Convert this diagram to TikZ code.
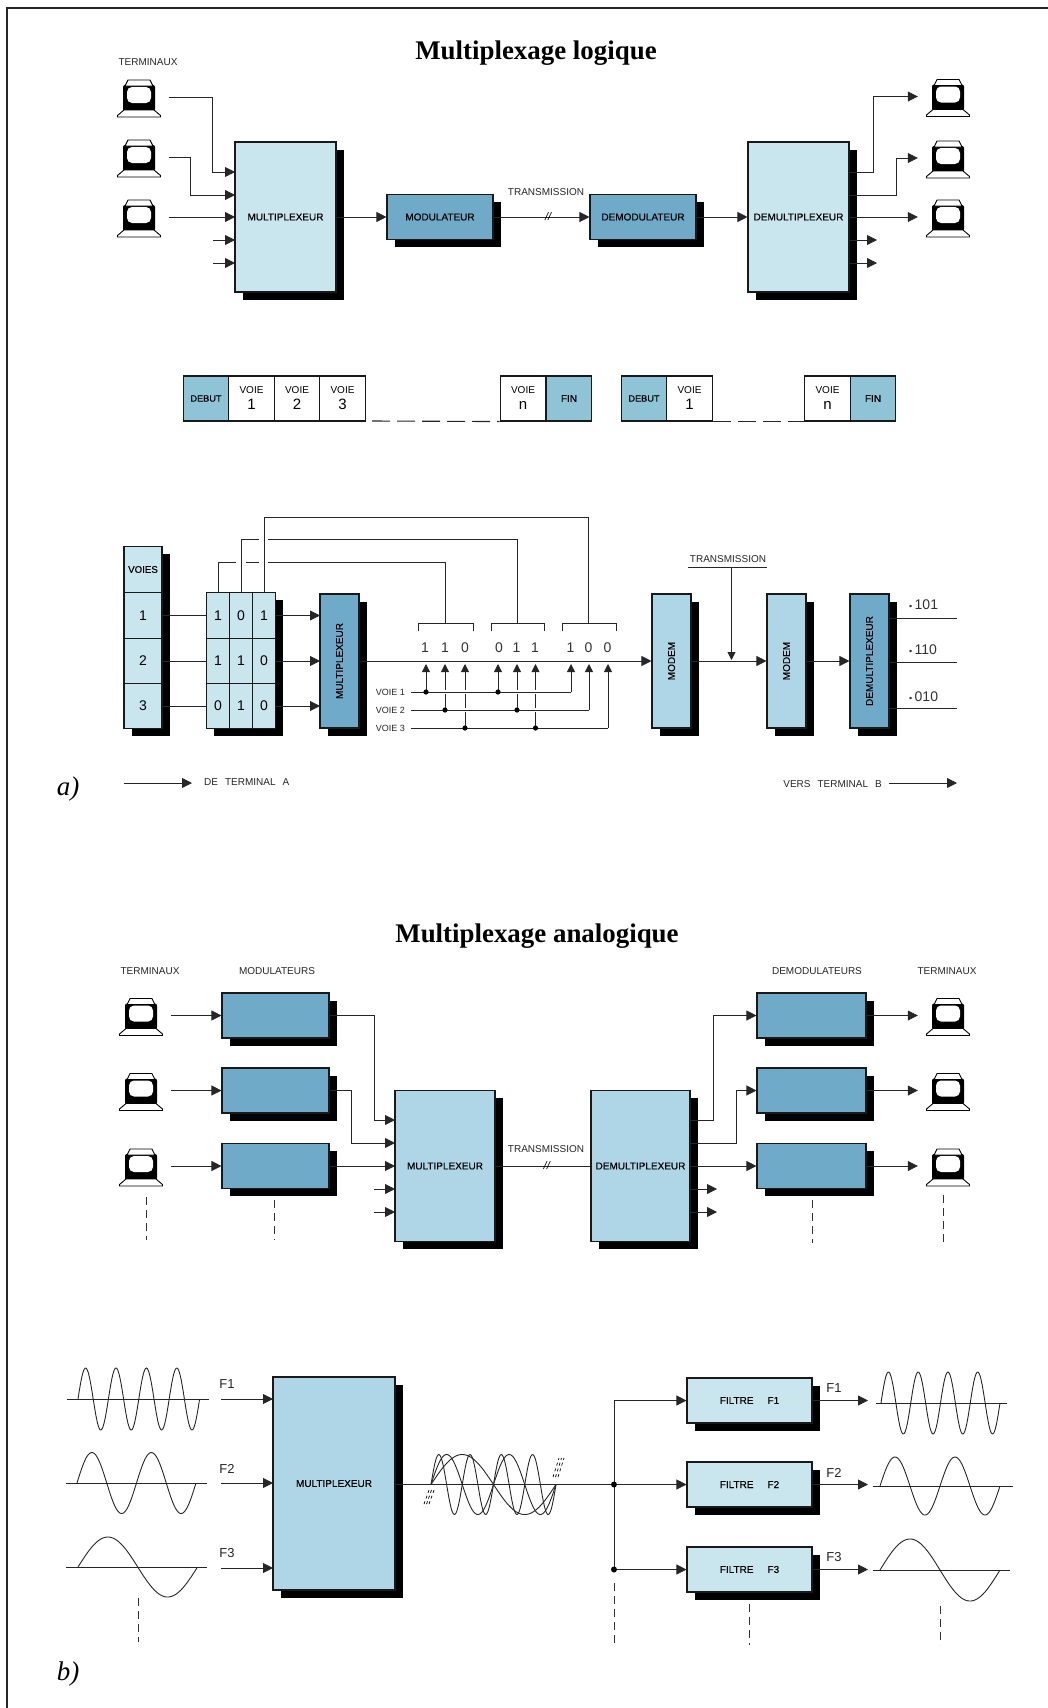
\documentclass[tikz,border=0pt]{standalone}
\usepackage{fontspec}
\setmainfont{Liberation Serif}
\setsansfont{Liberation Sans}
\newfontfamily\blocfont[FakeBold=0.25]{Liberation Sans}
\usepackage{xcolor}
\usepackage{tikz}
\usetikzlibrary{arrows.meta, shadows}

\definecolor{bleuclair}{HTML}{C9E5EE}
\definecolor{bleumoyen}{HTML}{AFD6E7}
\definecolor{bleufonce}{HTML}{6FABC8}
\definecolor{bleucase}{HTML}{8FC3D6}

\tikzset{
    ombre/.style={drop shadow={shadow xshift=7.5pt, shadow yshift=-7.5pt, fill=black, opacity=1}},
    bloc/.style={draw=black!90, line width=1.1pt, inner sep=0pt, ombre, font=\blocfont\fontsize{10}{12}\selectfont, align=center},
    blocclair/.style={bloc, fill=bleuclair},
    blocmoyen/.style={bloc, fill=bleumoyen},
    blocfonce/.style={bloc, fill=bleufonce},
    cellule/.style={draw=black!90, line width=1.1pt, minimum width=45.5, minimum height=45, inner sep=0pt, font=\sffamily\fontsize{10}{12}\selectfont, align=center},
    etiquette/.style={font=\sffamily\fontsize{10}{12}\selectfont, inner sep=0pt, text=black!85},
    chiffre/.style={font=\sffamily\fontsize{14}{16}\selectfont, inner sep=0pt, text=black!80},
    titre/.style={font=\rmfamily\bfseries\fontsize{26.9}{30}\selectfont, inner sep=0pt},
    repere/.style={font=\rmfamily\itshape\fontsize{27}{30}\selectfont, inner sep=0pt},
    fil/.style={draw=black!85, line width=0.8pt},
    fleche/.style={fil, -{Triangle[length=10pt,width=10pt]}},
    pointille/.style={draw=black!80, line width=0.9pt, dash pattern=on 8pt off 5pt},
    onde/.style={draw=black!85, line width=0.9pt},
    terminal/.pic={
        \node[minimum width=60, minimum height=37, inner sep=0pt] (-box) {};
        \fill[black, rounded corners=2pt] (-16,-12) rectangle (16,14);
        \draw[line width=0.9pt, fill=white] (-14,-11) -- (-11,-17) -- (11,-17) -- (14,-11) -- cycle;
        \fill[white, rounded corners=5pt] (-12,-10) rectangle (12,6);
        \draw[line width=0.9pt, fill=white] (-15,13) -- (-21.5,18.5) -- (-21.5,20) -- (21.5,20) -- (21.5,18.5) -- (15,13) -- cycle;
    }
}

\begin{document}
\begin{tikzpicture}[x=1pt, y=-1pt]
    \useasboundingbox (0,0) rectangle (1048,1708);
    % Cadre
    \coordinate (cadreO) at (7,8);
    \draw[line width=1.6pt, black!85] (1048,8) -- (cadreO) -- (7,1708);

    % Titres
    \node[titre] (titreA) at (536,53) {Multiplexage logique};
    \node[titre] (titreB) at (537,936.5) {Multiplexage analogique};

    % ---- Multiplexage logique : premiere ligne
    \node[etiquette] (lblTermA) at (148,62) {TERMINAUX};
    \foreach \n/\y in {1/97,2/157,3/217} {
        \pic (ta\n) at (139,\y) {terminal};
    }
    \foreach \n/\y in {1/96.5,2/158,3/217} {
        \pic (tb\n) at (948,\y) {terminal};
    }
    \node[blocclair, minimum width=101, minimum height=150] (muxA) at (285.5,217) {MULTIPLEXEUR};
    \node[blocfonce, minimum width=106, minimum height=45] (modA) at (440,217) {MODULATEUR};
    \node[blocfonce, minimum width=106, minimum height=45] (demodA) at (643,217) {DEMODULATEUR};
    \node[blocclair, minimum width=101, minimum height=150] (demuxA) at (798.5,217) {DEMULTIPLEXEUR};
    \node[etiquette] (lblTransA) at (546,192.5) {TRANSMISSION};

    % Entrees et sorties
    \foreach \n/\y in {1/172,2/195,3/217,4/240,5/263} {
        \coordinate (ea\n) at (235,\y);
        \coordinate (sa\n) at (849,\y);
    }
    \coordinate (cea1) at (212,172);
    \coordinate (cea2) at (190,195);
    \coordinate (fea4) at (213,240);
    \coordinate (fea5) at (213,263);
    \coordinate (csa1) at (873,96.5);
    \coordinate (csa2) at (896,158);
    \coordinate (fsa4) at (877,240);
    \coordinate (fsa5) at (877,263);
    \draw[fleche] (ta1-box.east) -| (cea1) -- (ea1);
    \draw[fleche] (ta2-box.east) -| (cea2) -- (ea2);
    \draw[fleche] (ta3-box.east) -- (ea3);
    \draw[fleche] (fea4) -- (ea4);
    \draw[fleche] (fea5) -- (ea5);
    \draw[fleche] (muxA.east) -- (modA.west);
    \draw[fleche] (modA.east) -- node[pos=0.57, etiquette, font=\sffamily\itshape\fontsize{11}{12}\selectfont, text=black] (slashA) {//} (demodA.west);
    \draw[fleche] (demodA.east) -- (demuxA.west);
    \draw[fleche] (sa1) -| (csa1) -- (tb1-box.west);
    \draw[fleche] (sa2) -| (csa2) -- (tb2-box.west);
    \draw[fleche] (sa3) -- (tb3-box.west);
    \draw[fleche] (sa4) -- (fsa4);
    \draw[fleche] (sa5) -- (fsa5);

    % ---- Trames
    \node[cellule, fill=bleucase, font=\blocfont\fontsize{9.2}{12}\selectfont] (debutA) at (206,398.5) {DEBUT};
    \node[cellule, fill=bleucase, font=\blocfont\fontsize{10}{12}\selectfont] (finA) at (569,398.5) {FIN};
    \node[cellule, fill=bleucase, font=\blocfont\fontsize{9.2}{12}\selectfont] (debutB) at (644,398.5) {DEBUT};
    \node[cellule, fill=bleucase, font=\blocfont\fontsize{10}{12}\selectfont] (finB) at (873,398.5) {FIN};
    \foreach \x/\c/\nom in {251.5/1/voieA1,297/2/voieA2,342.5/3/voieA3,523/n/voieAn,689.5/1/voieB1,827.5/n/voieBn} {
        \node[cellule] (\nom) at (\x,398.5) {VOIE\\[4pt]{\fontsize{15}{15}\selectfont \c}};
    }
    \coordinate (pointA) at (372,421);
    \draw[fil, line width=1.1pt, dash pattern=on 18pt off 7pt] (pointA) -- (voieAn.south west);
    \draw[fil, line width=1.1pt, dash pattern=on 18pt off 7pt] (voieB1.south east) -- (voieBn.south west);

    % ---- Voies et matrice
    \node[blocclair, minimum width=38, minimum height=45.5] (voies0) at (143,569.5) {\fontsize{9.7}{12}\selectfont VOIES};
    \foreach \n/\y in {1/615.5,2/661,3/706} {
        \node[blocclair, minimum width=38, minimum height=45.5, font=\sffamily\fontsize{14}{16}\selectfont] (voies\n) at (143,\y) {\n};
    }
    \foreach \ligne/\y/\va/\vb/\vc in {1/615.5/1/0/1,2/661/1/1/0,3/706/0/1/0} {
        \node[blocclair, minimum width=23, minimum height=45.5, font=\sffamily\fontsize{14}{16}\selectfont] (m\ligne a) at (218,\y) {\va};
        \node[blocclair, minimum width=23, minimum height=45.5, font=\sffamily\fontsize{14}{16}\selectfont] (m\ligne b) at (241,\y) {\vb};
        \node[blocclair, minimum width=23, minimum height=45.5, font=\sffamily\fontsize{14}{16}\selectfont] (m\ligne c) at (264,\y) {\vc};
    }
    \node[blocfonce, minimum width=39, minimum height=134] (muxB) at (339.5,661) {\rotatebox{90}{MULTIPLEXEUR}};
    \node[blocmoyen, minimum width=39, minimum height=134] (modemA) at (671.5,661) {\rotatebox{90}{MODEM}};
    \node[blocmoyen, minimum width=39, minimum height=134] (modemB) at (786.5,661) {\rotatebox{90}{MODEM}};
    \node[blocfonce, minimum width=39, minimum height=134] (demuxB) at (869.5,661) {\rotatebox{90}{DEMULTIPLEXEUR}};
    \foreach \n in {1,2,3} {
        \draw[fil] (voies\n.east) -- (m\n a.west);
    }
    \foreach \n/\y in {1/615.5,2/661,3/706} {
        \coordinate (em\n) at (320,\y);
        \draw[fleche] (m\n c.east) -- (em\n);
    }

    % Accolades et liaisons
    \foreach \xa/\xb/\xm/\nom in {418/473/445/crA,491/544/517/crB,562/616/588/crC} {
        \coordinate (\nom) at (\xm,623);
        \draw[fil] (\xa,631) -- (\xa,623) -- (\xb,623) -- (\xb,631);
    }
    \coordinate (hA1) at (236,562);
    \coordinate (hA2) at (246,562);
    \coordinate (hA3) at (259,562);
    \coordinate (hA4) at (268,562);
    \coordinate (hB1) at (259,539);
    \coordinate (hB2) at (268,539);
    \coordinate (hC1) at (264,517);
    \draw[fil] (m1a.north) |- (hA1);
    \draw[fil] (hA2) -- (hA3);
    \draw[fil] (hA4) -| (crA);
    \draw[fil] (m1b.north) |- (hB1);
    \draw[fil] (hB2) -| (crB);
    \draw[fil] (m1c.north) |- (hC1) -| (crC);

    % Bits
    \foreach \x/\b [count=\i] in {425/1,445/1,465/0,499/0,516.5/1,535/1,570.5/1,588.5/0,607.5/0} {
        \node[chiffre] (bit\i) at (\x,648) {\b};
    }
    % Voies du bas
    \foreach \n/\y/\xf in {1/692/571,2/710/589,3/728/608} {
        \node[etiquette, font=\sffamily\fontsize{9}{12}\selectfont, anchor=east] (lblVoie\n) at (405,\y) {VOIE \n};
        \coordinate (dv\n) at (411,\y);
        \coordinate (fv\n) at (\xf,\y);
    }
    \foreach \x/\v in {426/1,445/2,465/3,498/1,517/2,535.5/3,571/1,589/2,608/3} {
        \coordinate (haut) at (\x,664);
        \draw[fleche, -{Triangle[length=8pt,width=8pt]}] (dv\v -| haut) -- (haut);
    }
    \foreach \n in {1,2,3} {
        \draw[fil, preaction={draw=white, line width=3.5pt}] (dv\n) -- (fv\n);
    }
    \foreach \x/\v in {426/1,445/2,465/3,498/1,517/2,535.5/3} {
        \coordinate (haut) at (\x,664);
        \fill[black] (dv\v -| haut) circle (2.6pt);
    }

    \draw[fleche] (muxB.east) -- (modemA.west);
    \draw[fleche] (modemA.east) -- (modemB.west);
    \draw[fleche] (modemB.east) -- (demuxB.west);
    \node[etiquette] (lblTransB) at (728,559) {TRANSMISSION};
    \coordinate (soulA) at (688,567);
    \coordinate (soulB) at (767,567);
    \coordinate (soulM) at (731.5,567);
    \coordinate (soulF) at (731.5,660);
    \draw[fil] (soulA) -- (soulB);
    \draw[fleche, -{Triangle[length=8pt,width=8pt]}] (soulM) -- (soulF);

    % Sorties demultiplexeur
    \foreach \y/\yt/\val/\nom in {618/605/101/sa,662/650/110/sb,708/697/010/sc} {
        \coordinate (\nom) at (889,\y);
        \coordinate (\nom f) at (957,\y);
        \draw[fil] (\nom) -- (\nom f);
        \node[chiffre, anchor=west] (val\nom) at (909,\yt) {{\fontsize{9}{9}\selectfont\textbullet}\,\val};
    }

    \node[repere] (reperea) at (68,789) {a)};
    \coordinate (deA) at (124,783);
    \coordinate (deB) at (192,783);
    \coordinate (versA) at (889,783);
    \coordinate (versB) at (957,783);
    \draw[fleche] (deA) -- (deB);
    \draw[fleche] (versA) -- (versB);
    \node[etiquette, anchor=west] (lblDe) at (204,782) {DE\hspace{7pt}TERMINAL\hspace{7pt}A};
    \node[etiquette, anchor=east] (lblVers) at (882,784) {VERS\hspace{7pt}TERMINAL\hspace{7pt}B};

    % ---- Multiplexage analogique : premiere ligne
    \node[etiquette] (lblTermC) at (150,971) {TERMINAUX};
    \node[etiquette] (lblMod) at (277,971) {MODULATEURS};
    \node[etiquette] (lblDemod) at (817,971) {DEMODULATEURS};
    \node[etiquette] (lblTermD) at (947,971) {TERMINAUX};
    \foreach \n/\y in {1/1015.5,2/1090.5,3/1166} {
        \pic (tc\n) at (141,\y) {terminal};
        \pic (td\n) at (948,\y) {terminal};
        \node[blocfonce, minimum width=107, minimum height=45] (modC\n) at (275.5,\y) {};
        \node[blocfonce, minimum width=109, minimum height=45] (demodC\n) at (811.5,\y) {};
        \draw[fleche] (tc\n-box.east) -- (modC\n.west);
        \draw[fleche] (demodC\n.east) -- (td\n-box.west);
    }
    \node[blocmoyen, minimum width=100, minimum height=151] (muxC) at (445,1166) {MULTIPLEXEUR};
    \node[blocmoyen, minimum width=99, minimum height=151] (demuxC) at (640.5,1166) {DEMULTIPLEXEUR};
    \node[etiquette] (lblTransC) at (546,1149) {TRANSMISSION};
    \draw[fil] (muxC.east) -- node[pos=0.54, etiquette, font=\sffamily\itshape\fontsize{11}{12}\selectfont, text=black] (slashC) {//} (demuxC.west);
    \foreach \n/\y in {1/1120,2/1143,3/1166,4/1189,5/1212} {
        \coordinate (ec\n) at (395,\y);
        \coordinate (sc\n) at (690,\y);
    }
    \coordinate (cec1) at (374,1120);
    \coordinate (cec2) at (351,1143);
    \coordinate (fec4) at (374,1189);
    \coordinate (fec5) at (374,1212);
    \coordinate (csc1) at (713,1015.5);
    \coordinate (csc2) at (736,1090.5);
    \coordinate (fsc4) at (717,1189);
    \coordinate (fsc5) at (717,1212);
    \draw[fleche] (modC1.east) -| (cec1) -- (ec1);
    \draw[fleche] (modC2.east) -| (cec2) -- (ec2);
    \draw[fleche] (modC3.east) -- (ec3);
    \draw[fleche] (fec4) -- (ec4);
    \draw[fleche] (fec5) -- (ec5);
    \draw[fleche] (sc1) -| (csc1) -- (demodC1.west);
    \draw[fleche] (sc2) -| (csc2) -- (demodC2.west);
    \draw[fleche] (sc3) -- (demodC3.west);
    \draw[fleche] (sc4) -- (fsc4);
    \draw[fleche] (sc5) -- (fsc5);
    % Pointilles
    \foreach \x/\ya/\yb in {146/1197/1240,274/1200/1240,812/1200/1243,943/1195/1243} {
        \draw[pointille] (\x,\ya) -- (\x,\yb);
    }

    % ---- Signaux et filtres
    \foreach \xa/\xb/\yb/\amp/\k/\la/\lb in {78/199.6/1399/31/4/67/209, 77/196/1483/30.5/2/66/207, 78/197.5/1567/30/1/66/207, 881/1000/1403/31/4/876/1007, 880/1000/1486/29/2/873/1013, 880/1000/1570/31/1/873/1010} {
        \draw[fil] (\la,\yb) -- (\lb,\yb);
        \draw[onde] plot[domain=0:360, samples=120] ({\xa+(\xb-\xa)*(\x/360)},{\yb-\amp*sin(\k*\x)});
    }
    \node[blocmoyen, minimum width=122, minimum height=213] (muxD) at (334,1483.5) {MULTIPLEXEUR};
    \foreach \n/\y/\yf/\yl/\ys/\ym in {1/1399/1400.5/1384/1402/1388,2/1483/1484.5/1469/1486/1473,3/1568/1569.5/1553/1570/1557} {
        \node[etiquette, font=\sffamily\fontsize{13}{14}\selectfont] (lblGF\n) at (227,\yl) {F\n};
        \coordinate (dg\n) at (221,\y);
        \coordinate (eg\n) at (273,\y);
        \draw[fleche] (dg\n) -- (eg\n);
        \node[blocclair, minimum width=125, minimum height=45] (filtre\n) at (749.5,\yf) {FILTRE\hspace{14pt}F\n};
        \node[etiquette, font=\sffamily\fontsize{13}{14}\selectfont] (lblDF\n) at (834,\ym) {F\n};
        \coordinate (fd\n) at (868,\yf);
        \draw[fleche] (filtre\n.east) -- (fd\n);
    }
    % Signal compose
    \coordinate (noeudA) at (614,1484.5);
    \coordinate (noeudB) at (614,1569.5);
    \coordinate (noeudH) at (614,1400.5);
    \coordinate (signalA) at (431,1484.5);
    \draw[fil] (muxD.east |- noeudA) -- (noeudA);
    \foreach \k in {1,2,4} {
        \draw[onde] plot[domain=0:360, samples=120] ({431+125*(\x/360)},{1484.5-30*sin(\k*\x)});
    }
    \foreach \dx in {0,2.5,5} {
        \draw[black, line width=0.7pt, dash pattern=on 3pt off 3pt] (429+\dx,1490) -- (423+\dx,1507);
        \draw[black, line width=0.7pt, dash pattern=on 3pt off 3pt] (553+\dx,1477) -- (559+\dx,1458);
    }
    \draw[fil] (noeudH) -- (noeudB);
    \draw[fleche] (noeudH) -- (filtre1.west);
    \draw[fleche] (noeudA) -- (filtre2.west);
    \draw[fleche] (noeudB) -- (filtre3.west);
    \fill[black] (noeudA) circle (3pt);
    \fill[black] (noeudB) circle (3pt);
    \foreach \x/\ya/\yb in {138/1598/1642,614/1583/1643,749/1604/1645,940/1606/1645} {
        \draw[pointille] (\x,\ya) -- (\x,\yb);
    }
    \node[repere] (repereb) at (68,1674) {b)};
\end{tikzpicture}
\end{document}
